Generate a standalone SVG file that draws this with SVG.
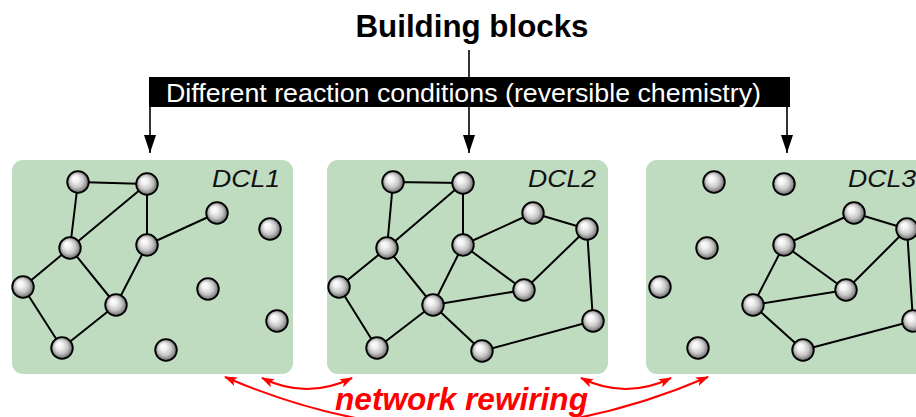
<svg xmlns="http://www.w3.org/2000/svg" width="916" height="417" viewBox="0 0 916 417">
<style>
.panel{fill:#bfdcc1}
.lbl{font-family:"Liberation Sans",Arial,sans-serif;font-style:italic;font-size:23px;fill:#111}
.edge{stroke:#000;stroke-width:2;fill:none}
.ball{fill:url(#ballg);stroke:#000;stroke-width:1.8}
.blk{stroke:#000;stroke-width:1.6;fill:none}
.red{stroke:#ff0000;stroke-width:2;fill:none}
</style>
<defs>
<radialGradient id="ballg" cx="50%" cy="50%" r="50%" fx="33%" fy="30%">
<stop offset="0" stop-color="#ffffff"/>
<stop offset="0.3" stop-color="#f2f2f2"/>
<stop offset="0.65" stop-color="#c6c6c6"/>
<stop offset="0.88" stop-color="#888888"/>
<stop offset="1" stop-color="#555555"/>
</radialGradient>
<marker id="ah" viewBox="0 0 18 12" refX="18" refY="6" markerWidth="18" markerHeight="12" markerUnits="userSpaceOnUse" orient="auto">
<path d="M0,0 L18,6 L0,12 z" fill="#000"/>
</marker>
<marker id="rh" viewBox="0 0 13 9" refX="12" refY="4.5" markerWidth="13" markerHeight="9" markerUnits="userSpaceOnUse" orient="auto-start-reverse">
<path d="M0,0 L13,4.5 L0,9 L3,4.5 z" fill="#ff0000"/>
</marker>
</defs>

<g id="title">
<text x="472" y="37" text-anchor="middle" font-family="'Liberation Sans',Arial,sans-serif" font-weight="bold" font-size="32" textLength="233" lengthAdjust="spacingAndGlyphs">Building blocks</text>
</g>

<g id="conditions-bar">
<rect x="149" y="77" width="641" height="30" fill="#000"/>
<text x="166" y="102" font-family="'Liberation Sans',Arial,sans-serif" font-size="25.5" fill="#fff" textLength="595" lengthAdjust="spacingAndGlyphs">Different reaction conditions (reversible chemistry)</text>
</g>

<g id="panels">
<g id="dcl1">
<rect class="panel" x="12" y="160" width="281" height="214" rx="11"/>
<text class="lbl" x="212" y="187" textLength="68" lengthAdjust="spacingAndGlyphs">DCL1</text>
</g>
<g id="dcl2">
<rect class="panel" x="327" y="160" width="281" height="214" rx="11"/>
<text class="lbl" x="528" y="187" textLength="68" lengthAdjust="spacingAndGlyphs">DCL2</text>
</g>
<g id="dcl3">
<rect class="panel" x="646" y="160" width="290" height="214" rx="11"/>
<text class="lbl" x="848" y="187" textLength="68" lengthAdjust="spacingAndGlyphs">DCL3</text>
</g>
</g>

<g id="connectors">
<line class="blk" x1="469" y1="50" x2="469" y2="77"/>
<line class="blk" x1="150" y1="107" x2="150" y2="153" marker-end="url(#ah)"/>
<line class="blk" x1="469" y1="107" x2="469" y2="153" marker-end="url(#ah)"/>
<line class="blk" x1="787" y1="107" x2="787" y2="153" marker-end="url(#ah)"/>

<g id="edges-dcl1">
<path class="edge" d="M78,182L147,184 M78,182L70,248 M147,184L70,248 M147,184L147,245 M147,245L217,213 M70,248L23,287 M70,248L116,305 M147,245L116,305 M23,287L62,348 M62,348L116,305"/>
</g>
<g id="edges-dcl2">
<path class="edge" d="M393,182L463,183 M393,182L387,248 M463,183L387,248 M463,183L463,245 M463,245L533,213 M533,213L587,229 M587,229L524,290 M463,245L524,290 M463,245L433,305 M387,248L433,305 M387,248L339,287 M339,287L377,348 M377,348L433,305 M433,305L524,290 M433,305L482,351 M482,351L593,321 M587,229L593,321"/>
</g>
<g id="edges-dcl3">
<path class="edge" d="M784,245L854,213 M854,213L907,229 M907,229L846,290 M784,245L846,290 M784,245L753,305 M753,305L846,290 M753,305L803,350 M803,350L913,321 M907,229L913,321"/>
</g>

<path class="red" d="M225,377 Q466.5,481 708,377" marker-start="url(#rh)" marker-end="url(#rh)"/>
<path class="red" d="M262,378 Q307,400 352,378" marker-start="url(#rh)" marker-end="url(#rh)"/>
<path class="red" d="M581,378 Q626,400 671,378" marker-start="url(#rh)" marker-end="url(#rh)"/>
</g>

<g id="nodes-dcl1">
<circle id="d1a" class="ball" cx="78" cy="182" r="10.8"/>
<circle id="d1b" class="ball" cx="147" cy="184" r="10.8"/>
<circle id="d1c" class="ball" cx="217" cy="213" r="10.8"/>
<circle id="d1d" class="ball" cx="270" cy="229" r="10.8"/>
<circle id="d1e" class="ball" cx="70" cy="248" r="10.8"/>
<circle id="d1f" class="ball" cx="147" cy="245" r="10.8"/>
<circle id="d1g" class="ball" cx="23" cy="287" r="10.8"/>
<circle id="d1h" class="ball" cx="208" cy="289" r="10.8"/>
<circle id="d1i" class="ball" cx="116" cy="305" r="10.8"/>
<circle id="d1j" class="ball" cx="277" cy="321" r="10.8"/>
<circle id="d1k" class="ball" cx="62" cy="348" r="10.8"/>
<circle id="d1l" class="ball" cx="166" cy="350" r="10.8"/>
</g>
<g id="nodes-dcl2">
<circle id="d2a" class="ball" cx="393" cy="182" r="10.8"/>
<circle id="d2b" class="ball" cx="463" cy="183" r="10.8"/>
<circle id="d2c" class="ball" cx="533" cy="213" r="10.8"/>
<circle id="d2d" class="ball" cx="587" cy="229" r="10.8"/>
<circle id="d2e" class="ball" cx="387" cy="248" r="10.8"/>
<circle id="d2f" class="ball" cx="463" cy="245" r="10.8"/>
<circle id="d2g" class="ball" cx="339" cy="287" r="10.8"/>
<circle id="d2h" class="ball" cx="524" cy="290" r="10.8"/>
<circle id="d2i" class="ball" cx="433" cy="305" r="10.8"/>
<circle id="d2j" class="ball" cx="593" cy="321" r="10.8"/>
<circle id="d2k" class="ball" cx="377" cy="348" r="10.8"/>
<circle id="d2l" class="ball" cx="482" cy="351" r="10.8"/>
</g>
<g id="nodes-dcl3">
<circle id="d3a" class="ball" cx="714" cy="182" r="10.8"/>
<circle id="d3b" class="ball" cx="784" cy="184" r="10.8"/>
<circle id="d3c" class="ball" cx="854" cy="213" r="10.8"/>
<circle id="d3d" class="ball" cx="907" cy="229" r="10.8"/>
<circle id="d3e" class="ball" cx="707" cy="248" r="10.8"/>
<circle id="d3f" class="ball" cx="784" cy="245" r="10.8"/>
<circle id="d3g" class="ball" cx="660" cy="287" r="10.8"/>
<circle id="d3h" class="ball" cx="846" cy="290" r="10.8"/>
<circle id="d3i" class="ball" cx="753" cy="305" r="10.8"/>
<circle id="d3j" class="ball" cx="913" cy="321" r="10.8"/>
<circle id="d3k" class="ball" cx="698" cy="348" r="10.8"/>
<circle id="d3l" class="ball" cx="803" cy="350" r="10.8"/>
</g>

<g id="rewiring-label">
<text x="335" y="410" font-family="'Liberation Sans',Arial,sans-serif" font-weight="bold" font-style="italic" font-size="31" fill="#ff0000" textLength="253" lengthAdjust="spacingAndGlyphs">network rewiring</text>
</g>
</svg>
